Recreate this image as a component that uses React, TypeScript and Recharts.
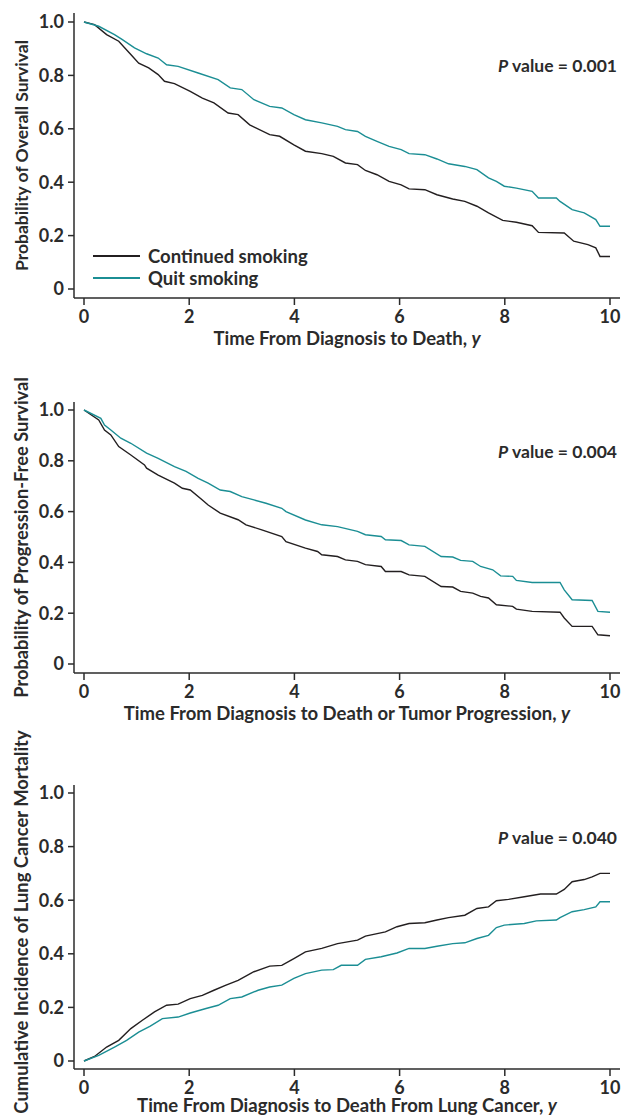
import { Label, Line, LineChart, XAxis, YAxis } from "recharts"

// [time in years, probability]
const osContinued: [number, number][] = [
  [0, 1.0], [0.2, 0.99], [0.43, 0.953], [0.66, 0.928], [0.89, 0.878], [1.04, 0.846], [1.23, 0.828],
  [1.41, 0.803], [1.53, 0.778], [1.72, 0.769], [2.02, 0.74], [2.25, 0.715], [2.47, 0.697], [2.74, 0.659],
  [2.93, 0.653], [3.15, 0.615], [3.53, 0.578], [3.72, 0.572], [3.99, 0.54], [4.21, 0.516], [4.52, 0.507],
  [4.74, 0.497], [4.97, 0.472], [5.2, 0.466], [5.35, 0.444], [5.57, 0.428], [5.8, 0.403], [6.03, 0.39],
  [6.18, 0.375], [6.48, 0.372], [6.71, 0.353], [7.01, 0.337], [7.24, 0.328], [7.47, 0.31], [7.69, 0.285],
  [7.96, 0.257], [8.22, 0.25], [8.52, 0.237], [8.64, 0.212], [9.13, 0.21], [9.31, 0.179], [9.58, 0.166],
  [9.73, 0.154], [9.81, 0.122], [10, 0.122],
]
const osQuit: [number, number][] = [
  [0, 1.0], [0.28, 0.984], [0.58, 0.953], [0.73, 0.934], [0.96, 0.903], [1.19, 0.881], [1.41, 0.865],
  [1.57, 0.84], [1.79, 0.834], [2.17, 0.809], [2.55, 0.784], [2.78, 0.753], [3.0, 0.747], [3.23, 0.709],
  [3.53, 0.684], [3.76, 0.678], [3.99, 0.653], [4.21, 0.634], [4.52, 0.622], [4.82, 0.609], [4.97, 0.597],
  [5.2, 0.59], [5.35, 0.572], [5.57, 0.553], [5.8, 0.534], [6.03, 0.522], [6.18, 0.507], [6.48, 0.503],
  [6.71, 0.487], [6.93, 0.469], [7.24, 0.459], [7.47, 0.447], [7.69, 0.416], [7.84, 0.403], [7.99, 0.385],
  [8.22, 0.378], [8.52, 0.366], [8.64, 0.341], [8.98, 0.341], [9.05, 0.328], [9.28, 0.297], [9.51, 0.285],
  [9.73, 0.26], [9.81, 0.235], [10, 0.235],
]

const pfsContinued: [number, number][] = [
  [0, 1.0], [0.28, 0.961], [0.39, 0.921], [0.51, 0.902], [0.66, 0.856], [0.89, 0.823], [1.15, 0.784],
  [1.19, 0.771], [1.41, 0.744], [1.72, 0.712], [1.87, 0.692], [2.02, 0.685], [2.25, 0.646], [2.36, 0.626],
  [2.59, 0.594], [2.93, 0.568], [3.08, 0.548], [3.38, 0.528], [3.76, 0.502], [3.84, 0.482], [4.21, 0.456],
  [4.44, 0.443], [4.52, 0.43], [4.82, 0.423], [4.97, 0.41], [5.2, 0.404], [5.35, 0.391], [5.65, 0.384],
  [5.73, 0.364], [6.03, 0.364], [6.18, 0.351], [6.48, 0.345], [6.79, 0.305], [7.01, 0.303], [7.16, 0.286],
  [7.39, 0.279], [7.54, 0.266], [7.69, 0.26], [7.84, 0.233], [8.15, 0.227], [8.22, 0.216], [8.52, 0.207],
  [9.05, 0.204], [9.13, 0.181], [9.28, 0.148], [9.66, 0.148], [9.77, 0.115], [10, 0.111],
]
const pfsQuit: [number, number][] = [
  [0, 1.0], [0.32, 0.967], [0.39, 0.941], [0.51, 0.921], [0.7, 0.889], [0.89, 0.869], [1.19, 0.83],
  [1.41, 0.81], [1.72, 0.777], [1.94, 0.758], [2.17, 0.731], [2.36, 0.712], [2.59, 0.685], [2.78, 0.679],
  [3.0, 0.659], [3.23, 0.646], [3.46, 0.633], [3.76, 0.613], [3.84, 0.6], [4.21, 0.567], [4.52, 0.548],
  [4.82, 0.541], [5.2, 0.522], [5.35, 0.509], [5.65, 0.502], [5.73, 0.489], [6.03, 0.486], [6.18, 0.469],
  [6.48, 0.463], [6.79, 0.423], [7.01, 0.421], [7.16, 0.408], [7.39, 0.404], [7.54, 0.384], [7.77, 0.371],
  [7.92, 0.347], [8.15, 0.345], [8.22, 0.329], [8.52, 0.321], [9.05, 0.321], [9.13, 0.292], [9.28, 0.253],
  [9.66, 0.25], [9.77, 0.207], [10, 0.204],
]

const lcmContinued: [number, number][] = [
  [0, 0], [0.2, 0.017], [0.43, 0.052], [0.66, 0.077], [0.89, 0.121], [1.11, 0.152], [1.34, 0.183],
  [1.57, 0.208], [1.79, 0.212], [2.02, 0.233], [2.25, 0.245], [2.47, 0.264], [2.7, 0.283], [2.93, 0.301],
  [3.23, 0.333], [3.53, 0.354], [3.76, 0.357], [3.99, 0.382], [4.21, 0.407], [4.52, 0.42], [4.82, 0.438],
  [5.2, 0.451], [5.35, 0.466], [5.73, 0.482], [5.95, 0.501], [6.18, 0.513], [6.48, 0.516], [6.71, 0.526],
  [6.93, 0.535], [7.24, 0.544], [7.47, 0.569], [7.69, 0.575], [7.84, 0.598], [8.07, 0.603], [8.37, 0.613],
  [8.68, 0.623], [8.98, 0.623], [9.13, 0.64], [9.28, 0.669], [9.51, 0.677], [9.66, 0.687], [9.81, 0.7],
  [10, 0.7],
]
const lcmQuit: [number, number][] = [
  [0, 0], [0.28, 0.021], [0.58, 0.052], [0.81, 0.077], [1.04, 0.108], [1.26, 0.13], [1.49, 0.158],
  [1.79, 0.164], [2.02, 0.179], [2.32, 0.196], [2.55, 0.208], [2.78, 0.233], [3.0, 0.239], [3.31, 0.264],
  [3.53, 0.276], [3.76, 0.283], [3.99, 0.308], [4.21, 0.326], [4.52, 0.339], [4.74, 0.341], [4.89, 0.357],
  [5.2, 0.357], [5.35, 0.379], [5.65, 0.389], [5.95, 0.403], [6.18, 0.42], [6.48, 0.42], [6.71, 0.428],
  [7.01, 0.438], [7.24, 0.441], [7.47, 0.457], [7.69, 0.469], [7.84, 0.498], [7.99, 0.507], [8.37, 0.513],
  [8.6, 0.523], [8.98, 0.526], [9.05, 0.535], [9.28, 0.557], [9.51, 0.565], [9.73, 0.575], [9.81, 0.594],
  [10, 0.594],
]

const xTicks = [0, 2, 4, 6, 8, 10]
const yTicks = [0, 0.2, 0.4, 0.6, 0.8, 1.0]
const seriesNames = ["Continued smoking", "Quit smoking"]
const seriesColors = ["#231f20", "#1b8e94"]

const FONT = "Lato, 'Liberation Sans', sans-serif"
const INK = "#2b2b2b"

const toRows = (pts: [number, number][]) => pts.map(([t, v]) => ({ t, v }))

interface Panel {
  top: number
  height: number
  plotTop: number
  plotBottom: number
  padTop: number
  padBottom: number
  yTitle: string
  yTitleSize: number
  yTitleShift: number
  xTitle: string
  xTitleDy: number
  pValue: string
  pY: number
  series: [number, number][][]
  legend?: boolean
}

const panels: Panel[] = [
  {
    top: 0, height: 360, plotTop: 13, plotBottom: 298, padTop: 9, padBottom: 9,
    yTitle: "Probability of Overall Survival", yTitleSize: 17.5, yTitleShift: 0,
    xTitle: "Time From Diagnosis to Death, ", xTitleDy: 40,
    pValue: "0.001", pY: 66, series: [osContinued, osQuit], legend: true,
  },
  {
    top: 360, height: 370, plotTop: 402, plotBottom: 673, padTop: 8, padBottom: 9,
    yTitle: "Probability of Progression-Free Survival", yTitleSize: 18.3, yTitleShift: 0,
    xTitle: "Time From Diagnosis to Death or Tumor Progression, ", xTitleDy: 40,
    pValue: "0.004", pY: 452, series: [pfsContinued, pfsQuit],
  },
  {
    top: 730, height: 387, plotTop: 785, plotBottom: 1069, padTop: 8, padBottom: 8,
    yTitle: "Cumulative Incidence of Lung Cancer Mortality", yTitleSize: 18.4, yTitleShift: -5,
    xTitle: "Time From Diagnosis to Death From Lung Cancer, ", xTitleDy: 36,
    pValue: "0.040", pY: 838, series: [lcmContinued, lcmQuit],
  },
]

function KMPanel({ p }: { p: Panel }) {
  const marginTop = p.plotTop - p.top
  const xAxisHeight = p.top + p.height - p.plotBottom
  const tickStyle = { fill: INK, fontSize: 18, fontWeight: 700, fontFamily: FONT }
  return (
    <div style={{ position: "absolute", left: 0, top: p.top, width: 621, height: p.height }}>
      <LineChart width={621} height={p.height} margin={{ top: marginTop, right: 1, left: 0, bottom: 0 }}>
        <XAxis
          type="number"
          dataKey="t"
          domain={[0, 10]}
          ticks={xTicks}
          padding={{ left: 10, right: 10 }}
          height={xAxisHeight}
          tickSize={7}
          tickMargin={5}
          stroke={INK}
          strokeWidth={1.5}
          tick={tickStyle}
        >
          <Label
            content={({ viewBox }: any) => (
              <text
                x={viewBox.x + viewBox.width / 2}
                y={viewBox.y + p.xTitleDy}
                textAnchor="middle"
                dominantBaseline="central"
                fontFamily={FONT}
                fontSize={18.5}
                fontWeight={700}
                fill={INK}
              >
                {p.xTitle}
                <tspan fontStyle="italic">y</tspan>
              </text>
            )}
          />
        </XAxis>
        <YAxis
          type="number"
          domain={[0, 1]}
          ticks={yTicks}
          padding={{ top: p.padTop, bottom: p.padBottom }}
          width={74}
          tickSize={6}
          tickMargin={4}
          stroke={INK}
          strokeWidth={1.5}
          tickFormatter={(v: number) => (v === 0 ? "0" : v.toFixed(1))}
          tick={tickStyle}
        >
          <Label
            content={({ viewBox }: any) => {
              const cy = viewBox.y + viewBox.height / 2 + p.yTitleShift
              return (
                <text
                  x={21}
                  y={cy}
                  transform={`rotate(-90, 21, ${cy})`}
                  textAnchor="middle"
                  dominantBaseline="central"
                  fontFamily={FONT}
                  fontSize={p.yTitleSize}
                  fontWeight={700}
                  fill={INK}
                >
                  {p.yTitle}
                </text>
              )
            }}
          />
        </YAxis>
        {p.series.map((s, i) => (
          <Line
            key={seriesNames[i]}
            data={toRows(s)}
            dataKey="v"
            name={seriesNames[i]}
            type="linear"
            stroke={seriesColors[i]}
            strokeWidth={1.4}
            dot={false}
            isAnimationActive={false}
          />
        ))}
      </LineChart>
      <div
        style={{
          position: "absolute", right: 4, top: p.pY - p.top - 11, lineHeight: "22px",
          fontFamily: FONT, fontSize: 17.5, fontWeight: 700, color: INK, whiteSpace: "nowrap",
        }}
      >
        <i>P</i> value = {p.pValue}
      </div>
      {p.legend && (
        <div style={{ position: "absolute", left: 93, top: 245, fontFamily: FONT, fontSize: 18.5, fontWeight: 700, color: INK }}>
          {seriesNames.map((name, i) => (
            <div key={name} style={{ display: "flex", alignItems: "center", height: 22 }}>
              <span style={{ width: 47, height: 1.5, background: seriesColors[i], marginRight: 8 }} />
              <span>{name}</span>
            </div>
          ))}
        </div>
      )}
    </div>
  )
}

export default function App() {
  return (
    <div style={{ position: "absolute", left: 0, top: 0, width: 621, height: 1117, background: "#fff", overflow: "hidden" }}>
      {panels.map((p) => (
        <KMPanel key={p.yTitle} p={p} />
      ))}
    </div>
  )
}
